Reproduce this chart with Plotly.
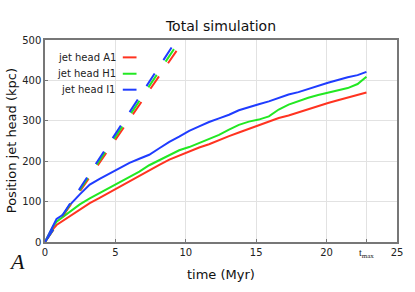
import plotly.graph_objects as go

# ---- data ----
t = [0, 0.3, 0.6, 0.82, 1.3, 1.77, 2.47, 3.18, 3.88, 4.59, 5.3, 6.0, 6.7, 7.4, 8.12,
     8.83, 9.53, 10.24, 10.95, 11.65, 12.36, 13.07, 13.77, 14.48, 15.18, 15.9, 16.6,
     17.3, 18.0, 18.7, 19.4, 20.1, 20.8, 21.5, 22.2, 22.83]
head_A1 = [0, 17, 33, 42, 53, 63, 80, 96, 109, 123, 136, 149, 163, 178, 191,
           204, 214, 224, 234, 242, 253, 262, 271, 280, 290, 299, 307,
           313, 321, 328, 336, 344, 351, 358, 364, 370]
head_H1 = [0, 20, 40, 50, 63, 76, 93, 108, 121, 135, 148, 162, 174, 190, 203,
           215, 227, 235, 245, 254, 265, 278, 290, 298, 303, 311, 328,
           340, 349, 357, 364, 370, 375, 381, 391, 409]
head_I1 = [0, 22, 45, 57, 68, 92, 118, 142, 156, 170, 184, 196, 206, 216, 232,
           248, 261, 275, 286, 297, 306, 315, 326, 334, 341, 348, 357,
           365, 371, 379, 387, 394, 401, 408, 413, 421]

# straight-line extrapolations (dashed)
ext_t_A1 = [0, 9.42]
ext_y_A1 = [0, 477]
ext_t_H1 = [0, 9.25]
ext_y_H1 = [0, 482]
ext_t_I1 = [0, 9.06]
ext_y_I1 = [0, 485]

labels = ["jet head A1", "jet head H1", "jet head I1"]
x_tickvals = [0, 5, 10, 15, 20, 22.83, 25]
x_ticktext = ["0", "5", "10", "15", "20",
              "<span style='font-family:Liberation Serif'>t<sub>max</sub></span>", "25"]
y_tickvals = [0, 100, 200, 300, 400, 500]

RED = "#ff3320"
GREEN = "#22e822"
BLUE = "#1f3cff"
colors = [RED, GREEN, BLUE]

fig = go.Figure()
for y, c in zip([head_A1, head_H1, head_I1], colors):
    fig.add_trace(go.Scatter(x=t, y=y, mode="lines", line=dict(color=c, width=2),
                             showlegend=False, hoverinfo="skip"))
for xs, ys, c in zip([ext_t_A1, ext_t_H1, ext_t_I1], [ext_y_A1, ext_y_H1, ext_y_I1], colors):
    fig.add_trace(go.Scatter(x=xs, y=ys, mode="lines",
                             line=dict(color=c, width=2, dash="15px,16px"),
                             showlegend=False, hoverinfo="skip"))

font = "DejaVu Sans"
annotations = []
shapes = []
leg_y = [0.914, 0.833, 0.754]
for lab, c, yy in zip(labels, colors, leg_y):
    annotations.append(dict(text=lab, x=0.206, y=yy, xref="paper", yref="paper",
                            xanchor="right", yanchor="middle", showarrow=False,
                            font=dict(family=font, size=10, color="#222")))
    shapes.append(dict(type="line", x0=0.221, x1=0.260, y0=yy, y1=yy,
                       xref="paper", yref="paper", line=dict(color=c, width=2)))

annotations.append(dict(text="time (Myr)", x=0.5, y=-0.163, xref="paper", yref="paper",
                        xanchor="center", yanchor="middle", showarrow=False,
                        font=dict(family=font, size=13, color="#111")))
annotations.append(dict(text="Position jet head (kpc)", x=-0.096, y=0.5, xref="paper",
                        yref="paper", xanchor="center", yanchor="middle", textangle=-90,
                        showarrow=False, font=dict(family=font, size=13, color="#111")))
annotations.append(dict(text="<i>A</i>", x=-0.079, y=-0.098, xref="paper", yref="paper",
                        xanchor="center", yanchor="middle", showarrow=False,
                        font=dict(family="Liberation Serif", size=22, color="#111")))

fig.update_layout(
    width=415, height=292,
    margin=dict(l=45, r=16, t=40, b=50),
    paper_bgcolor="white", plot_bgcolor="white",
    title=dict(text="Total simulation", x=0.5, xref="paper", xanchor="center",
               y=1 - 26 / 292, yanchor="middle",
               font=dict(family=font, size=14, color="#111")),
    annotations=annotations, shapes=shapes,
    showlegend=False,
)
fig.update_xaxes(range=[0, 25], tickvals=x_tickvals, ticktext=x_ticktext,
                 showgrid=True, gridcolor="#e2e2e2", gridwidth=1,
                 showline=True, linecolor="#777", linewidth=1.5, mirror=True,
                 ticks="inside", ticklen=3, tickcolor="#777",
                 tickfont=dict(family=font, size=10, color="#222"), zeroline=False)
fig.update_yaxes(range=[0, 500], tickvals=y_tickvals,
                 showgrid=True, gridcolor="#e2e2e2", gridwidth=1,
                 showline=True, linecolor="#777", linewidth=1.5, mirror=True,
                 ticks="inside", ticklen=3, tickcolor="#777",
                 tickfont=dict(family=font, size=10, color="#222"), zeroline=False)

fig.write_html("out.html", config={"displayModeBar": False},
               post_script="document.body.style.margin='0';")
